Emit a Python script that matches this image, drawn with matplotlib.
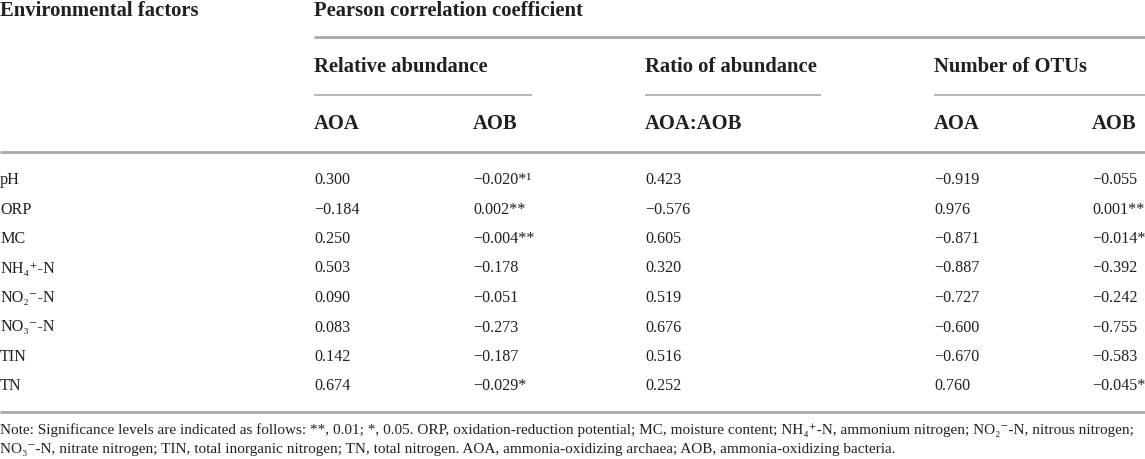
import matplotlib
matplotlib.use("Agg")
import matplotlib.pyplot as plt

plt.rcParams['font.family'] = ['Liberation Serif', 'DejaVu Serif']

# table content
factors = ["pH", "ORP", "MC", "NH\u2084\u207a-N", "NO\u2082\u207b-N", "NO\u2083\u207b-N", "TIN", "TN"]
rel_aoa = [0.300, -0.184, 0.250, 0.503, 0.090, 0.083, 0.142, 0.674]
rel_aob = [-0.020, 0.002, -0.004, -0.178, -0.051, -0.273, -0.187, -0.029]
rel_aob_sig = ["*\u00b9", "**", "**", "", "", "", "", "*"]
ratio = [0.423, -0.576, 0.605, 0.320, 0.519, 0.676, 0.516, 0.252]
otu_aoa = [-0.919, 0.976, -0.871, -0.887, -0.727, -0.600, -0.670, 0.760]
otu_aob = [-0.055, 0.001, -0.014, -0.392, -0.242, -0.755, -0.583, -0.045]
otu_aob_sig = ["", "**", "*", "", "", "", "", "*"]

group_labels = ["Relative abundance", "Ratio of abundance", "Number of OTUs"]
sub_labels = ["AOA", "AOB", "AOA:AOB", "AOA", "AOB"]

note_lines = [
    "Note: Significance levels are indicated as follows: **, 0.01; *, 0.05. ORP, oxidation-reduction potential; "
    "MC, moisture content; NH\u2084\u207a-N, ammonium nitrogen; NO\u2082\u207b-N, nitrous nitrogen;",
    "NO\u2083\u207b-N, nitrate nitrogen; TIN, total inorganic nitrogen; TN, total nitrogen. "
    "AOA, ammonia-oxidizing archaea; AOB, ammonia-oxidizing bacteria.",
]

txt = "#231f20"
rule = "#a7a9ac"
W, H = 1145, 459

fig = plt.figure(figsize=(W / 100, H / 100), dpi=100)
ax = fig.add_axes([0, 0, 1, 1])
ax.set_xlim(0, W)
ax.set_ylim(H, 0)
ax.axis("off")


def fmt(v, sig=""):
    return f"{v:.3f}".replace("-", "\u2212") + sig


hsize = 14.9
bsize = 11.6

# header
ax.text(0, 11, "Environmental factors", fontsize=hsize, fontweight="bold", color=txt, va="center")
ax.text(314, 11, "Pearson correlation coefficient", fontsize=hsize, fontweight="bold", color=txt, va="center")
ax.hlines(37, 314, W, color=rule, lw=2)

group_x = [(314, 532), (645, 821), (934, W)]
for (x0, x1), lab in zip(group_x, group_labels):
    ax.text(x0, 67, lab, fontsize=hsize, fontweight="bold", color=txt, va="center")
    ax.hlines(94.5, x0, x1, color=rule, lw=1.2)

col_x = [314, 473, 645, 934, 1092]
for x, lab in zip(col_x, sub_labels):
    ax.text(x, 124, lab, fontsize=hsize, fontweight="bold", color=txt, va="center")
ax.hlines(152, 0, W, color=rule, lw=2)

# body rows
row_y0, row_step = 180, 29.5
for i, f in enumerate(factors):
    y = row_y0 + i * row_step
    cells = [fmt(rel_aoa[i]), fmt(rel_aob[i], rel_aob_sig[i]), fmt(ratio[i]),
             fmt(otu_aoa[i]), fmt(otu_aob[i], otu_aob_sig[i])]
    ax.text(0, y, f, fontsize=bsize, color=txt, va="center")
    for x, c in zip(col_x, cells):
        ax.text(x, y, c, fontsize=bsize, color=txt, va="center")
ax.hlines(412, 0, W, color=rule, lw=2)

# note, sized so the first line spans the measured width
renderer = fig.canvas.get_renderer()
probe = ax.text(0, 430, note_lines[0], fontsize=10, color=txt, va="center")
wpx = probe.get_window_extent(renderer).width
probe.remove()
nsize = 10 * 1131 / wpx
ax.text(0, 430, note_lines[0], fontsize=nsize, color=txt, va="center")
ax.text(0, 449, note_lines[1], fontsize=nsize, color=txt, va="center")

fig.savefig("out.png", dpi=100)
